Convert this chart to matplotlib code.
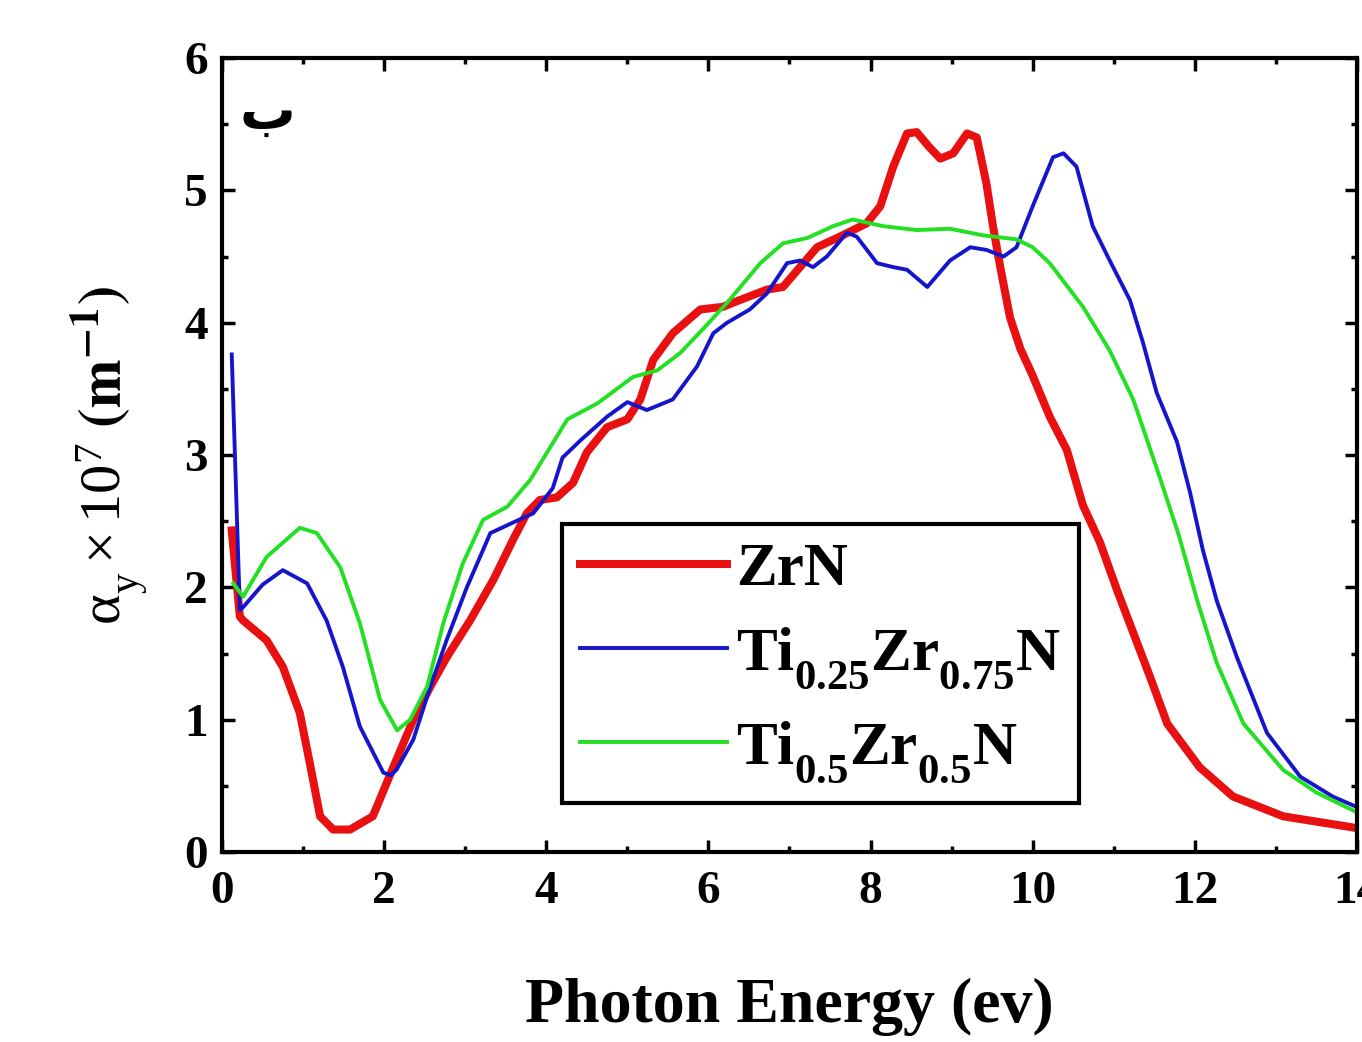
import matplotlib
matplotlib.use("Agg")
import matplotlib.pyplot as plt
from matplotlib import _mathtext
from matplotlib.ticker import MultipleLocator

plt.rcParams['font.family'] = ['Liberation Serif', 'DejaVu Sans']
plt.rcParams['mathtext.fontset'] = 'stix'
plt.rcParams['mathtext.default'] = 'regular'
# deeper subscripts, like the chemical formulas in the original
_mathtext.FontConstantsBase.sub1 = 0.7
_mathtext.STIXFontConstants.sub1 = 0.7

# ZrN
x_zrn = [0.12, 0.22, 0.26, 0.55, 0.75, 0.96, 1.09, 1.21, 1.37, 1.58, 1.86, 2.03, 2.36, 2.57,
         2.77, 3.06, 3.35, 3.59, 3.76, 3.92, 4.13, 4.33, 4.5, 4.75, 5.0, 5.16, 5.32, 5.56,
         5.9, 6.18, 6.3, 6.72, 6.92, 7.13, 7.34, 7.62, 7.95, 8.12, 8.28, 8.45, 8.57, 8.72,
         8.86, 9.02, 9.19, 9.31, 9.43, 9.51, 9.6, 9.72, 9.85, 10.0, 10.21, 10.42, 10.62,
         10.83, 11.04, 11.45, 11.66, 12.06, 12.47, 13.09, 13.91, 14.0]
y_zrn = [2.43, 1.78, 1.75, 1.6, 1.4, 1.05, 0.65, 0.27, 0.17, 0.17, 0.27, 0.52, 1.0, 1.25,
         1.47, 1.75, 2.06, 2.36, 2.56, 2.66, 2.68, 2.79, 3.02, 3.21, 3.27, 3.42, 3.72, 3.92,
         4.1, 4.12, 4.15, 4.25, 4.27, 4.42, 4.57, 4.65, 4.75, 4.88, 5.18, 5.43, 5.44, 5.33,
         5.24, 5.28, 5.43, 5.4, 5.05, 4.73, 4.42, 4.04, 3.8, 3.6, 3.29, 3.04, 2.62,
         2.34, 1.98, 1.32, 0.97, 0.64, 0.42, 0.27, 0.19, 0.18]

# Ti0.25Zr0.75N
x_ti25 = [0.12, 0.22, 0.26, 0.5, 0.75, 1.05, 1.29, 1.49, 1.70, 1.99, 2.08, 2.15, 2.36, 2.57,
          2.77, 3.02, 3.31, 3.59, 3.84, 4.08, 4.2, 4.42, 4.75, 5.0, 5.24, 5.56, 5.86, 6.06,
          6.23, 6.51, 6.72, 6.97, 7.13, 7.29, 7.46, 7.71, 7.83, 8.08, 8.28, 8.45, 8.7, 8.98,
          9.23, 9.43, 9.64, 9.8, 10.0, 10.25, 10.38, 10.54, 10.74, 10.95, 11.2, 11.36, 11.53,
          11.78, 11.94, 12.1, 12.27, 12.52, 12.89, 13.3, 13.7, 14.0]
y_ti25 = [3.76, 1.83, 1.85, 2.02, 2.13, 2.03, 1.75, 1.40, 0.95, 0.6, 0.58, 0.62, 0.85, 1.25,
          1.6, 2.0, 2.41, 2.49, 2.56, 2.75, 2.98, 3.11, 3.29, 3.40, 3.34, 3.42, 3.67, 3.92,
          4.0, 4.1, 4.22, 4.45, 4.47, 4.42, 4.5, 4.68, 4.65, 4.45, 4.42, 4.4, 4.27, 4.47,
          4.57, 4.55, 4.5, 4.57, 4.88, 5.25, 5.28, 5.18, 4.73, 4.47, 4.17, 3.85, 3.47,
          3.1, 2.72, 2.28, 1.9, 1.47, 0.9, 0.57, 0.42, 0.34]

# Ti0.5Zr0.5N
x_ti50 = [0.14, 0.26, 0.55, 0.96, 1.17, 1.46, 1.70, 1.95, 2.16, 2.32, 2.53, 2.73, 2.97, 3.22,
          3.52, 3.8, 4.26, 4.63, 5.07, 5.37, 5.65, 5.93, 6.23, 6.64, 6.92, 7.22, 7.54, 7.78,
          8.15, 8.57, 8.98, 9.39, 9.8, 10.0, 10.21, 10.62, 10.95, 11.24, 11.53, 11.8, 12.03,
          12.27, 12.6, 13.09, 13.5, 14.0]
y_ti50 = [2.03, 1.93, 2.23, 2.45, 2.41, 2.15, 1.73, 1.15, 0.92, 1.0, 1.25, 1.73, 2.18, 2.51,
          2.61, 2.81, 3.27, 3.39, 3.59, 3.64, 3.77, 3.95, 4.15, 4.45, 4.6, 4.64, 4.73, 4.78,
          4.73, 4.70, 4.71, 4.66, 4.63, 4.57, 4.45, 4.12, 3.79, 3.42, 2.9, 2.4, 1.9,
          1.43, 0.97, 0.62, 0.45, 0.30]

labels = ['ZrN', 'Ti$_{0.25}$Zr$_{0.75}$N', 'Ti$_{0.5}$Zr$_{0.5}$N']

fig = plt.figure(figsize=(13.62, 10.42), dpi=100)
ax = fig.add_axes([0.163, 0.1823, 0.8333, 0.762])

ax.plot(x_zrn, y_zrn, color='#e81010', lw=5.8, solid_joinstyle='round', label=labels[0])
ax.plot(x_ti25, y_ti25, color='#1515cc', lw=2.8, solid_joinstyle='round', label=labels[1])
ax.plot(x_ti50, y_ti50, color='#22e022', lw=2.8, solid_joinstyle='round', label=labels[2])

ax.set_xlim(0, 14)
ax.set_ylim(0, 6)
ax.xaxis.set_major_locator(MultipleLocator(2))
ax.xaxis.set_minor_locator(MultipleLocator(1))
ax.yaxis.set_major_locator(MultipleLocator(1))
ax.yaxis.set_minor_locator(MultipleLocator(0.5))
ax.tick_params(which='both', direction='in', top=True, right=True, width=2.5)
ax.tick_params(which='major', length=9, labelsize=34)
ax.tick_params(which='minor', length=4.5)
ax.tick_params(axis='x', pad=14)
ax.tick_params(axis='y', pad=10)
for lab in ax.get_xticklabels() + ax.get_yticklabels():
    lab.set_fontweight('bold')
for s in ax.spines.values():
    s.set_linewidth(3)

ax.set_xlabel('Photon Energy (ev)', fontsize=46, fontweight='bold', labelpad=46)
ax.set_ylabel(r'$\alpha_y\times10^7$ $\mathbf{(m^{-1})}$', fontsize=42, labelpad=24)

ax.text(0.04, 0.93, '\ufe8f', transform=ax.transAxes, fontsize=40, fontweight='bold',
        family=['DejaVu Sans'], ha='center', va='center')

leg = ax.legend(loc='lower left', bbox_to_anchor=(0.2996, 0.0617), frameon=True,
                fancybox=False, edgecolor='black', framealpha=1,
                prop={'family': 'Liberation Serif', 'weight': 'bold', 'size': 44},
                handlelength=2.4, handletextpad=0.15, borderpad=0.3, labelspacing=0.45,
                borderaxespad=0)
leg.get_frame().set_linewidth(3)

fig.savefig('out.png', dpi=100)
